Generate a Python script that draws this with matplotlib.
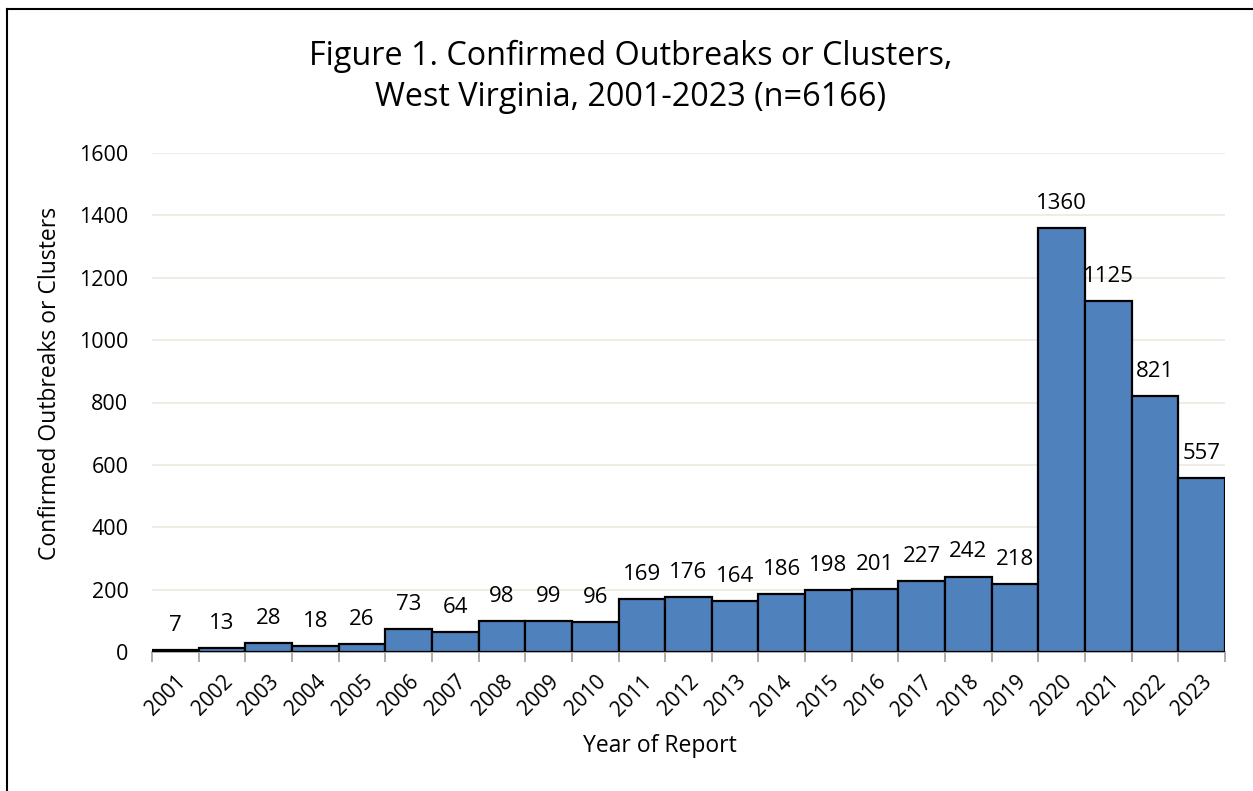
import numpy as np
import matplotlib.pyplot as plt
from matplotlib.lines import Line2D

years = [str(y) for y in range(2001, 2024)]
counts = [7, 13, 28, 18, 26, 73, 64, 98, 99, 96, 169, 176, 164, 186, 198,
          201, 227, 242, 218, 1360, 1125, 821, 557]
yticks = [0, 200, 400, 600, 800, 1000, 1200, 1400, 1600]

plt.rcParams['font.family'] = ['Open Sans', 'DejaVu Sans']

W, H = 1253, 791
fig = plt.figure(figsize=(W / 100, H / 100), dpi=100)
ax = fig.add_axes([152 / W, 1 - 652 / H, (1225 - 152) / W, (652 - 153) / H])

x = np.arange(len(years))
ax.bar(x, counts, width=1.0, color='#4F81BD', edgecolor='black', linewidth=1.6, zorder=3)

for xi, v in zip(x, counts):
    ax.text(xi, v + 45, str(v), ha='center', va='bottom', fontsize=16, color='black')

ax.set_xlim(-0.5, len(years) - 0.5)
ax.set_ylim(0, 1600)
ax.set_yticks(yticks)
ax.set_yticklabels([str(t) for t in yticks], fontsize=15.5)
ax.grid(axis='y', color='#EDEBE0', linewidth=1.3, zorder=0)

ax.set_xticks(x)
ax.set_xticklabels(years, rotation=45, ha='right', rotation_mode='anchor', fontsize=15)
ax.tick_params(axis='x', which='major', length=0, pad=14)
ax.tick_params(axis='y', length=0, pad=17)
ax.set_xticks(np.arange(len(years) + 1) - 0.5, minor=True)
ax.tick_params(axis='x', which='minor', length=7, color='#A6A6A6', width=1.3)

for s in ['left', 'right', 'top']:
    ax.spines[s].set_visible(False)
ax.spines['bottom'].set_color('#A6A6A6')
ax.spines['bottom'].set_linewidth(1.3)

ax.set_xlabel('Year of Report', fontsize=16.5)
ax.xaxis.set_label_coords((660 - 152) / (1225 - 152), -(746 - 652) / (652 - 153))
ax.set_ylabel('Confirmed Outbreaks or Clusters', fontsize=16.5)
ax.yaxis.set_label_coords(-(152 - 50) / (1225 - 152), (652 - 383) / (652 - 153))
ax.xaxis.label.set_va('center')
ax.yaxis.label.set_va('center')

fig.text(631 / W, 1 - 77 / H,
         'Figure 1. Confirmed Outbreaks or Clusters,\nWest Virginia, 2001-2023 (n=6166)',
         ha='center', va='center', fontsize=23.3, linespacing=1.3)

# frame around the chart area
fig.add_artist(Line2D([6.5 / W, 6.5 / W], [0, 1 - 8.5 / H], color='black', linewidth=1.5,
                      transform=fig.transFigure))
fig.add_artist(Line2D([6.5 / W, 1], [1 - 8.5 / H, 1 - 8.5 / H], color='black', linewidth=1.5,
                      transform=fig.transFigure))

fig.savefig('out.png', dpi=100)
